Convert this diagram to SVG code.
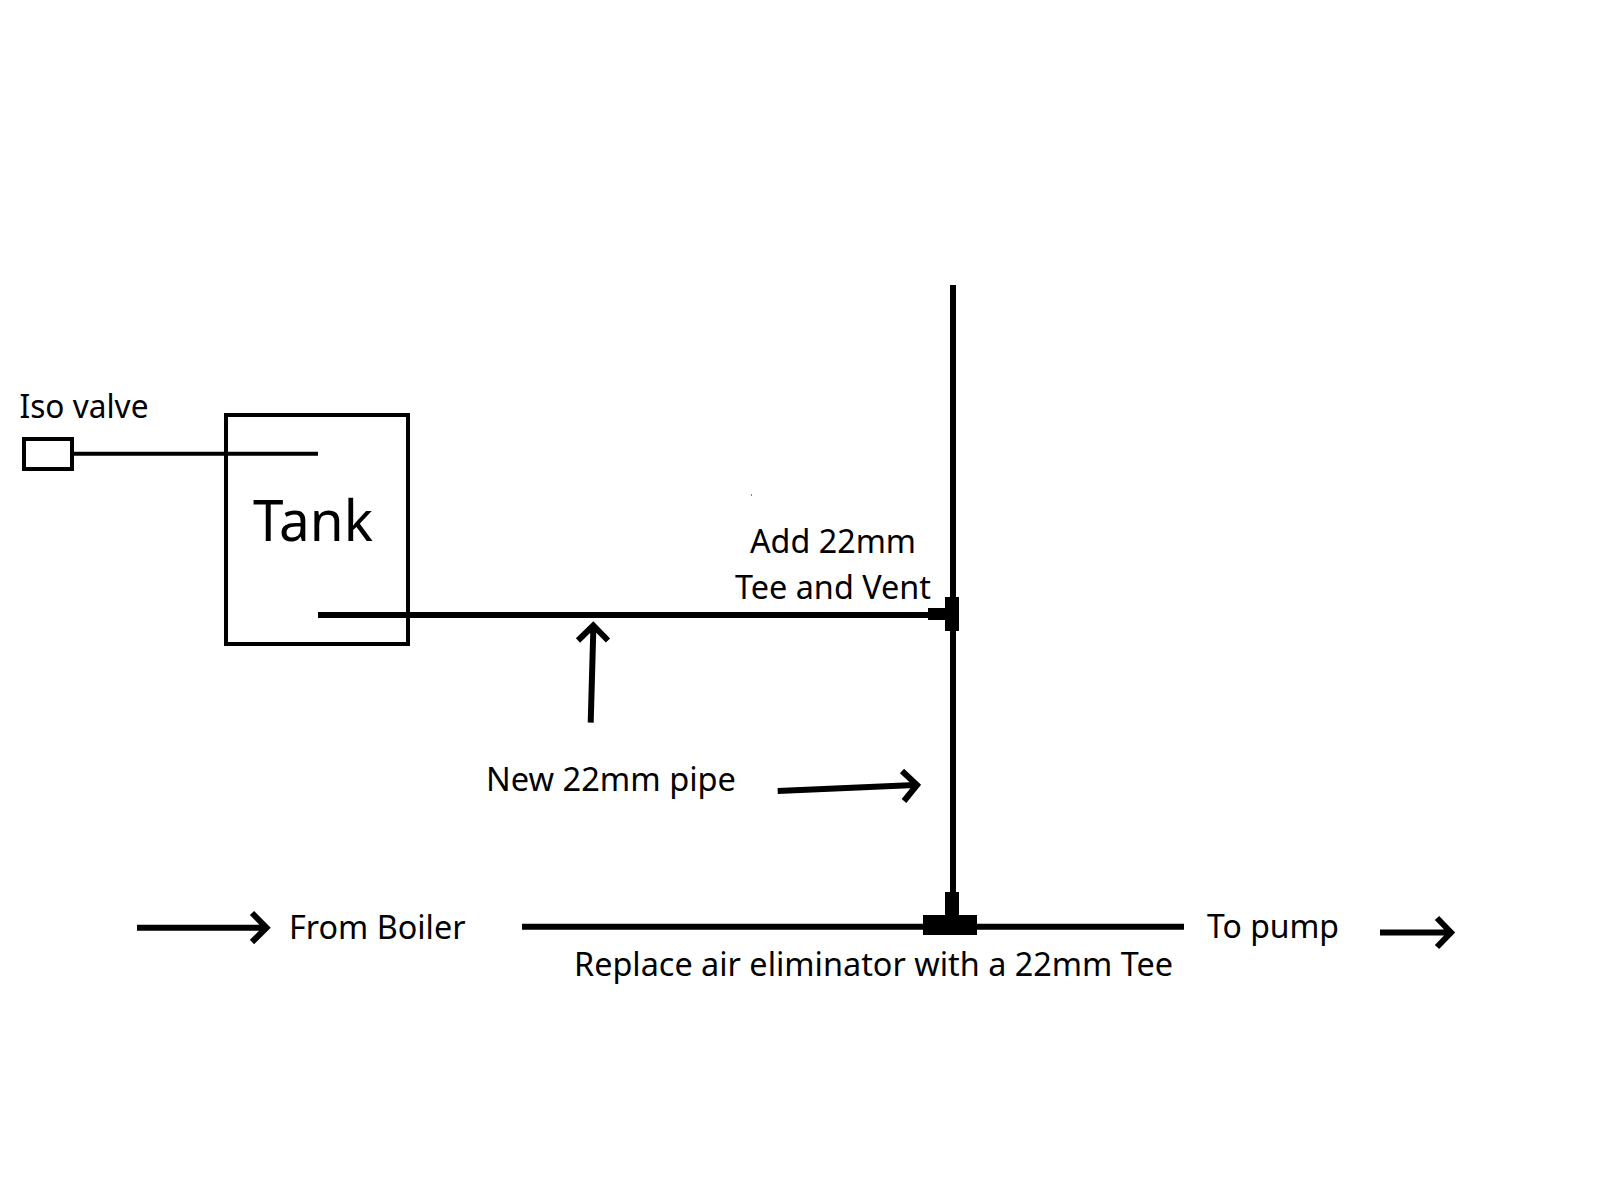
<svg xmlns="http://www.w3.org/2000/svg" width="1600" height="1200" viewBox="0 0 1600 1200">
  <style>
    .label { font-family: "Noto Sans", "Open Sans", sans-serif; font-size: 32px; fill: #000; }
    .title { font-size: 57px; }
    .box { fill: none; stroke: #000; stroke-width: 4; }
    .thin { fill: none; stroke: #000; stroke-width: 4; }
    .pipe { fill: none; stroke: #000; stroke-width: 6; }
    .fit { fill: #000; }
    .pointer { fill: none; stroke: #000; stroke-width: 6; }
  </style>
  <rect width="1600" height="1200" fill="#fff"/>

  <g id="connectors">
    <path class="thin" d="M74 453.7H318"/>
    <path class="pipe" d="M318 615H930"/>
    <path class="pipe" d="M953 285V900"/>
    <path class="pipe" d="M522 926.7H1184"/>
  </g>

  <g id="tank">
    <rect class="box" x="226" y="415" width="182" height="229"/>
    <text class="label title" x="253" y="540.7" textLength="120" lengthAdjust="spacingAndGlyphs">Tank</text>
  </g>

  <g id="iso-valve">
    <rect class="box" x="24" y="439" width="48" height="30"/>
    <text class="label" x="19.5" y="417.7" textLength="129" lengthAdjust="spacingAndGlyphs">Iso valve</text>
  </g>

  <g id="vent-tee">
    <rect class="fit" x="945" y="597" width="14" height="34"/>
    <rect class="fit" x="928" y="608" width="17" height="12"/>
    <rect class="fit" x="751" y="494.5" width="1" height="1"/>
    <text class="label" x="750" y="552.7" textLength="166" lengthAdjust="spacingAndGlyphs">Add 22mm</text>
    <text class="label" x="735" y="599" textLength="196" lengthAdjust="spacingAndGlyphs">Tee and Vent</text>
  </g>

  <g id="main-tee">
    <rect class="fit" x="923" y="915" width="54" height="20"/>
    <rect class="fit" x="945" y="892" width="14" height="23"/>
    <text class="label" x="574" y="975.5" textLength="599" lengthAdjust="spacingAndGlyphs">Replace air eliminator with a 22mm Tee</text>
  </g>

  <g id="new-pipe-note">
    <text class="label" x="486" y="790.7" textLength="250" lengthAdjust="spacingAndGlyphs">New 22mm pipe</text>
    <path class="pointer" d="M590.7 722.7L593.3 630M578 640.5L593.3 625.5L608 640.5"/>
    <path class="pointer" d="M777.7 791L915 785M902 771L917 785L904 801"/>
  </g>

  <g id="from-boiler">
    <path class="pointer" d="M137 927.7H265M252 913L266.5 927.7L252 942"/>
    <text class="label" x="289" y="939" textLength="176.5" lengthAdjust="spacingAndGlyphs">From Boiler</text>
  </g>

  <g id="to-pump">
    <text class="label" x="1207" y="937.7" textLength="132" lengthAdjust="spacingAndGlyphs">To pump</text>
    <path class="pointer" d="M1380 932.5H1449M1437 918L1451 932.5L1437 947"/>
  </g>
</svg>
